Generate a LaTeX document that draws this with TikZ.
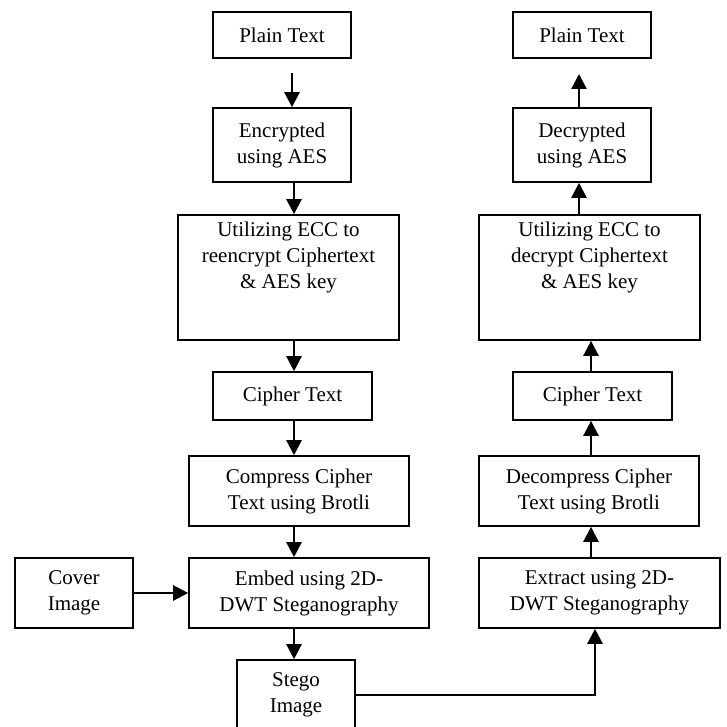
\documentclass[tikz,border=0pt]{standalone}
\usepackage{fontspec}
\setmainfont{Liberation Serif}
\usetikzlibrary{arrows.meta}
\tikzset{
	box/.style={draw, line width=1.6pt, inner sep=0pt, align=center, font=\fontsize{21}{26}\selectfont},
	arr/.style={line width=2.4pt, -{Triangle[width=15pt,length=15pt]}}
}

\begin{document}
\begin{tikzpicture}[x=1pt,y=-1pt]
		%%%%% START %%%%%
		\useasboundingbox (0,0) rectangle (726,727);
		\coordinate (colA) at (294,0);
		\coordinate (colB) at (579,0);
		\coordinate (colC) at (591,0);
		\coordinate (colD) at (595,0);
		
		% sender side
		\node[box, minimum width=138pt, minimum height=46pt] (ptA) at (282,35) {Plain Text};
		\coordinate (inA) at (292,73);
		\node[box, minimum width=138pt, minimum height=74pt] (enc) at (282,145) {Encrypted\\using AES};
		\node[box, minimum width=221pt, minimum height=125pt] (eccA) at (288.5,277.5) {Utilizing ECC to\\reencrypt Ciphertext\\\& AES key\\[18pt]\mbox{}};
		\node[box, minimum width=159pt, minimum height=48pt] (ctA) at (292.5,396) {Cipher Text};
		\node[box, minimum width=220pt, minimum height=70pt] (comp) at (299,491) {Compress Cipher\\Text using Brotli};
		\node[box, minimum width=240pt, minimum height=70pt] (emb) at (309,593) {Embed using 2D-\\DWT Steganography};
		\node[box, minimum width=118pt, minimum height=70pt] (cover) at (74,593) {Cover\\Image};
		\node[box, minimum width=118pt, minimum height=70pt] (stego) at (296,695) {Stego\\Image};
		
		% receiver side
		\node[box, minimum width=138pt, minimum height=46pt] (ptB) at (582,35) {Plain Text};
		\coordinate (outB) at (579,74);
		\node[box, minimum width=138pt, minimum height=74pt] (dec) at (582,145) {Decrypted\\using AES};
		\node[box, minimum width=221pt, minimum height=125pt] (eccB) at (589.5,277.5) {Utilizing ECC to\\decrypt Ciphertext\\\& AES key\\[18pt]\mbox{}};
		\node[box, minimum width=159pt, minimum height=48pt] (ctB) at (592.5,396) {Cipher Text};
		\node[box, minimum width=220pt, minimum height=70pt] (decomp) at (589,491) {Decompress Cipher\\Text using Brotli};
		\node[box, minimum width=241pt, minimum height=70pt] (extr) at (599.5,593) {Extract using 2D-\\DWT Steganography};
		
		% arrows
		\draw[arr] (inA) -- (enc.north -| inA);
		\draw[arr] (enc.south -| colA) -- (eccA.north -| colA);
		\draw[arr] (eccA.south -| colA) -- (ctA.north -| colA);
		\draw[arr] (ctA.south -| colA) -- (comp.north -| colA);
		\draw[arr] (comp.south -| colA) -- (emb.north -| colA);
		\draw[arr] (emb.south -| colA) -- (stego.north -| colA);
		\draw[arr] (cover.east) -- (emb.west);
		\draw[arr] (stego.east) -| (extr.south -| colD);
		\draw[arr] (extr.north -| colC) -- (decomp.south -| colC);
		\draw[arr] (decomp.north -| colC) -- (ctB.south -| colC);
		\draw[arr] (ctB.north -| colC) -- (eccB.south -| colC);
		\draw[arr] (eccB.north -| colB) -- (dec.south -| colB);
		\draw[arr] (dec.north -| colB) -- (outB);
		%%%%% END %%%%%
\end{tikzpicture}
\end{document}
